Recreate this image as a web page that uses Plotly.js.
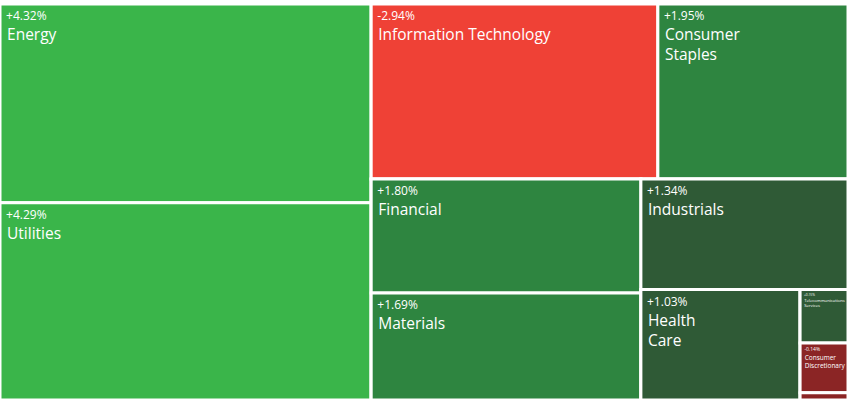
<!DOCTYPE html>
<html>
<head>
<meta charset="utf-8">
<script src="https://cdn.plot.ly/plotly-3.0.1.min.js"></script>
<style>html,body{margin:0;padding:0;background:#fff;}#chart{width:849px;height:403px;}</style>
</head>
<body>
<div id="chart"></div>
<script>
// Leaf data
const sectors = ["Energy","Utilities","Information Technology","Consumer Staples","Financial","Materials","Industrials","Health Care","Telecommunications Services","Consumer Discretionary","Real Estate"];
const displayNames = ["Energy","Utilities","Information Technology","Consumer<br>&nbsp;Staples","Financial","Materials","Industrials","Health<br>&nbsp;Care","Telecommunications<br>&nbsp;Services","Consumer<br>&nbsp;Discretionary",""];
const changes = [4.32, 4.29, -2.94, 1.95, 1.80, 1.69, 1.34, 1.03, 0.15, -0.14, -0.02];
const colors = ["#3ab54a","#3ab54a","#ef4136","#2e8540","#2e8540","#2e8540","#2f5a36","#2f5a36","#2f5a36","#8b2525","#8b2525"];
// Layout grouping (alternating strips, as in the original squarified chart)
const sectorGroup = ["g1","g1","g3","g3","g5","g5","g6","g7","g8","g8","g8"];
const groupIds = ["root","g1","r1","g3","r2","g5","g6","g7","g8"];
const groupParents = ["","root","root","r1","r1","r2","r2","g6","g7"];

const sizes = changes.map(v => Math.abs(v));
const texts = changes.map((v, i) => {
  if (!displayNames[i]) return "";
  const s = (v >= 0 ? "+" : "") + v.toFixed(2) + "%";
  return '<span style="font-size:12px">&nbsp;' + s + '</span><br>&nbsp;' + displayNames[i];
});

// Build node arrays in depth-first order (leaves before sub-groups)
const ids = [], parents = [], values = [], textAll = [], colorAll = [];
function walk(gid, parent) {
  ids.push(gid); parents.push(parent); values.push(0); textAll.push(""); colorAll.push("#ffffff");
  sectors.forEach((s, i) => {
    if (sectorGroup[i] === gid) {
      ids.push(s); parents.push(gid); values.push(sizes[i]); textAll.push(texts[i]); colorAll.push(colors[i]);
    }
  });
  groupIds.forEach((g, j) => { if (groupParents[j] === gid) walk(g, gid); });
}
walk("root", "");

Plotly.newPlot("chart", [{
  type: "treemap",
  ids: ids,
  labels: ids,
  parents: parents,
  values: values,
  branchvalues: "remainder",
  text: textAll,
  texttemplate: "%{text}",
  textposition: "top left",
  textfont: {family: "Open Sans, Noto Sans, sans-serif", size: 15.5, color: "#ffffff"},
  marker: {colors: colorAll, line: {color: "#ffffff", width: 3}, pad: {t: 0, l: 0, r: 0, b: 0}},
  tiling: {packing: "slice-dice", pad: 0},
  pathbar: {visible: false},
  sort: false,
  hoverinfo: "none"
}], {
  width: 849, height: 403,
  margin: {l: 0, r: 1, t: 4, b: 3},
  paper_bgcolor: "#ffffff",
  showlegend: false
}, {displayModeBar: false, staticPlot: true});
</script>
</body>
</html>
